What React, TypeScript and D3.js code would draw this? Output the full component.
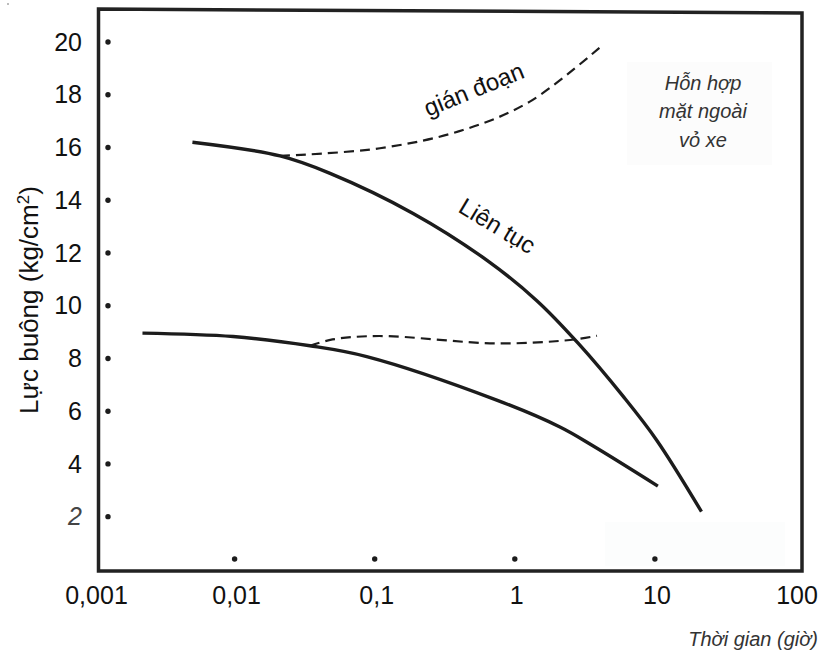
import React from "react";
import * as d3 from "d3";

// ---- data ----
const xTickValues = [0.001, 0.01, 0.1, 1, 10, 100];
const xTickLabels = ["0,001", "0,01", "0,1", "1", "10", "100"];
const xDotValues = [0.01, 0.1, 1, 10];
const yTickValues = [20, 18, 16, 14, 12, 10, 8, 6, 4, 2];

// Liên tục (continuous) – upper compound
const contUpperT = [0.005, 0.0211, 0.048, 0.188, 0.63, 1.43, 2.84, 5.96, 10.3, 21.5];
const contUpperV = [16.2, 15.68, 15.02, 13.5, 11.73, 10.2, 8.57, 6.55, 4.9, 2.19];

// Liên tục – lower curve
const contLowerT = [0.0022, 0.00975, 0.0345, 0.0877, 0.743, 2.1, 3.63, 10.5];
const contLowerV = [8.96, 8.83, 8.48, 8.07, 6.42, 5.4, 4.68, 3.16];

// gián đoạn (intermittent) – upper
const interUpperT = [0.0211, 0.109, 0.427, 1.28, 4.1];
const interUpperV = [15.68, 15.97, 16.66, 17.74, 19.82];

// gián đoạn – lower
const interLowerT = [0.0345, 0.05, 0.108, 0.74, 2.48, 3.86];
const interLowerV = [8.48, 8.72, 8.85, 8.57, 8.7, 8.86];

const W = 822;
const H = 655;

const FONT = "'Liberation Sans', Arial, Helvetica, sans-serif";

export default function App() {
  const x = d3.scaleLog().domain([0.001, 100]).range([94.5, 795]);
  const y = d3.scaleLinear().domain([0, 20]).range([569.4, 42]);

  const line = d3
    .line<[number, number]>()
    .x((d) => x(d[0]))
    .y((d) => y(d[1]))
    .curve(d3.curveCatmullRom.alpha(0.5));

  const zip = (t: number[], v: number[]) => t.map((tt, i) => [tt, v[i]] as [number, number]);

  const ink = "#1c1c1c";

  return (
    <svg
      width={W}
      height={H}
      viewBox={`0 0 ${W} ${H}`}
      style={{ position: "absolute", left: 0, top: 0, background: "#fff" }}
    >
      <rect x={0} y={0} width={W} height={H} fill="#fff" />
      <circle cx={8} cy={4} r={0.8} fill="#666" />

      {/* faint boxes */}
      <rect x={627} y={62} width={145} height={103} fill="#fcfcfc" />
      <rect x={605} y={522} width={180} height={44} fill="#fcfdfd" />

      {/* frame */}
      <path
        d="M98.5,9 L802,13 L802,571 L98.5,571 Z"
        fill="none"
        stroke="#222"
        strokeWidth={3.5}
      />

      {/* y tick dots and labels */}
      {yTickValues.map((v) => (
        <g key={v}>
          <circle cx={108} cy={y(v)} r={2.7} fill={ink} />
          <text
            x={82}
            y={y(v)}
            dy="0.35em"
            textAnchor="end"
            fontFamily={FONT}
            fontSize={25}
            fontStyle={v === 2 ? "italic" : "normal"}
            fill={v === 2 ? "#444" : "#111"}
          >
            {v}
          </text>
        </g>
      ))}

      {/* x dots */}
      {xDotValues.map((t) => (
        <circle key={t} cx={x(t)} cy={559} r={2.7} fill={ink} />
      ))}

      {/* x labels */}
      {xTickValues.map((t, i) => (
        <text
          key={t}
          x={x(t) + 2}
          y={604}
          textAnchor="middle"
          fontFamily={FONT}
          fontSize={25}
          fill="#111"
        >
          {xTickLabels[i]}
        </text>
      ))}

      {/* curves */}
      <path d={line(zip(contUpperT, contUpperV)) || ""} fill="none" stroke={ink} strokeWidth={3.4} strokeLinecap="butt" />
      <path d={line(zip(contLowerT, contLowerV)) || ""} fill="none" stroke={ink} strokeWidth={3.4} strokeLinecap="butt" />
      <path d={line(zip(interUpperT, interUpperV)) || ""} fill="none" stroke={ink} strokeWidth={2.2} strokeDasharray="10,6" />
      <path d={line(zip(interLowerT, interLowerV)) || ""} fill="none" stroke={ink} strokeWidth={2.2} strokeDasharray="10,6" />

      {/* curve labels */}
      <text
        transform="translate(477,97) rotate(-22)"
        textAnchor="middle"
        fontFamily={FONT}
        fontSize={24}
        fill="#111"
      >
        gián đoạn
      </text>
      <text
        transform="translate(493,233) rotate(31)"
        textAnchor="middle"
        fontFamily={FONT}
        fontSize={24}
        fill="#111"
      >
        Liên tục
      </text>

      {/* annotation */}
      <g fontFamily={FONT} fontSize={20} fontStyle="italic" fill="#333" textAnchor="middle">
        <text x={703} y={90}>Hỗn hợp</text>
        <text x={703} y={118}>mặt ngoài</text>
        <text x={703} y={147}>vỏ xe</text>
      </g>

      {/* axis titles */}
      <text
        transform="translate(38,300) rotate(-90)"
        textAnchor="middle"
        fontFamily={FONT}
        fontSize={26}
        fill="#111"
      >
        Lực buông (kg/cm
        <tspan baselineShift="super" fontSize={17}>2</tspan>)
      </text>
      <text
        x={818}
        y={646}
        textAnchor="end"
        fontFamily={FONT}
        fontSize={20}
        fontStyle="italic"
        fill="#333"
      >
        Thời gian (giờ)
      </text>
    </svg>
  );
}
